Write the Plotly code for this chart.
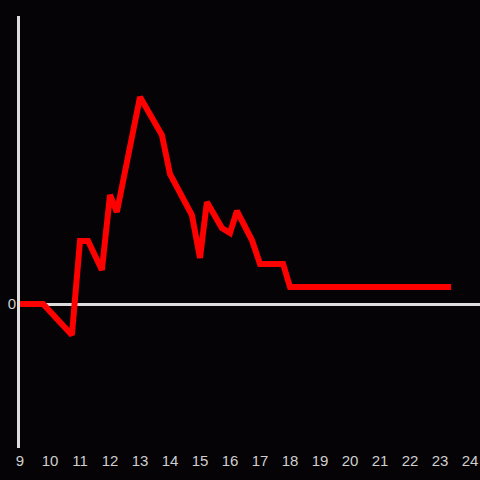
import plotly.graph_objects as go

hours = [9.0, 9.77, 10.73, 11.0, 11.27, 11.73, 12.0, 12.23, 13.0, 13.73, 14.0, 14.73, 15.0, 15.23,
         15.73, 16.0, 16.23, 16.73, 17.0, 17.77, 18.0, 23.37]
values = [0, 0, -31, 63, 63, 34, 109, 92, 207, 169, 130, 89, 46, 102,
          76, 71, 93, 64, 40, 40, 17, 17]
x_ticks = list(range(9, 25))

fig = go.Figure(go.Scatter(x=hours, y=values, mode="lines",
                           line=dict(color="#ff0000", width=6), hoverinfo="skip"))

fig.update_layout(
    width=480, height=480,
    margin=dict(l=20, r=0, t=16, b=32),
    paper_bgcolor="#050306", plot_bgcolor="#050306",
    showlegend=False,
    font=dict(family="Liberation Sans, Arial, sans-serif", size=15, color="#cfcfcf"),
    xaxis=dict(range=[9, 24.333], tickvals=x_ticks, ticktext=[str(t) for t in x_ticks],
               showgrid=False, zeroline=False, showline=False, ticks="", ticklen=0,
               ticklabelstandoff=2),
    yaxis=dict(range=[-144, 288], tickvals=[0], ticktext=["0"], showgrid=False,
               zeroline=True, zerolinecolor="#dcdcdc", zerolinewidth=3,
               showline=True, linecolor="#dcdcdc", linewidth=3, ticks="", ticklen=0,
               ticklabelstandoff=-2),
)

fig.write_html("out.html", config={"displayModeBar": False},
               post_script="document.body.style.margin='0';document.body.style.background='#050306';")
